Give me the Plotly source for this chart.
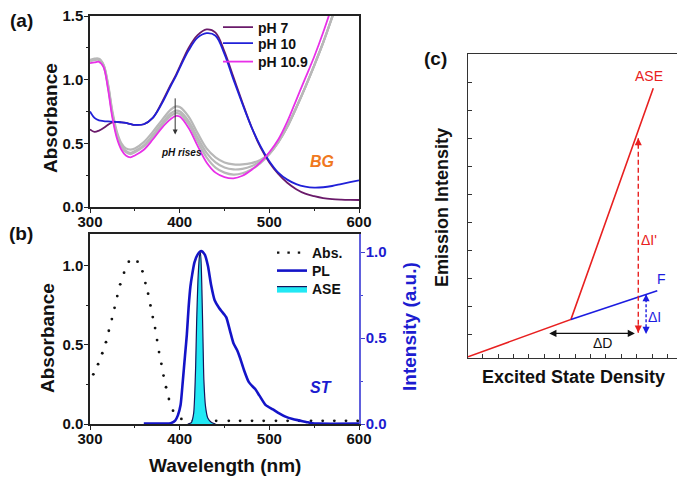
import plotly.graph_objects as go

FONT = "Liberation Sans, Arial, sans-serif"

# ---------------- Panel (a) data ----------------
wl_a = [300, 305, 310, 315, 320, 325, 330, 335, 340, 345, 350, 360, 370, 380, 390, 396, 400,
        410, 420, 430, 440, 450, 460, 470, 480, 490, 500, 510, 520, 530, 540, 550, 560, 570,
        580, 590, 600]
ph7 = [0.61, 0.59, 0.60, 0.62, 0.645, 0.665, 0.668, 0.665, 0.66, 0.652, 0.645, 0.65, 0.70, 0.82,
       0.96, 1.04, 1.10, 1.25, 1.35, 1.395, 1.37, 1.22, 1.02, 0.82, 0.63, 0.47, 0.35, 0.26, 0.19,
       0.14, 0.105, 0.085, 0.07, 0.062, 0.058, 0.056, 0.055]
ph10 = [0.75, 0.70, 0.68, 0.675, 0.672, 0.67, 0.668, 0.665, 0.66, 0.652, 0.645, 0.65, 0.70, 0.81,
        0.95, 1.03, 1.09, 1.23, 1.33, 1.365, 1.345, 1.20, 1.00, 0.81, 0.63, 0.48, 0.36, 0.27,
        0.215, 0.18, 0.16, 0.152, 0.155, 0.165, 0.18, 0.195, 0.21]
ph109 = [1.13, 1.135, 1.14, 1.10, 0.93, 0.70, 0.54, 0.45, 0.405, 0.39, 0.405, 0.45, 0.53, 0.62,
         0.69, 0.715, 0.71, 0.62, 0.48, 0.35, 0.27, 0.235, 0.225, 0.245, 0.29, 0.35, 0.43, 0.53,
         0.67, 0.84, 1.01, 1.18, 1.37, 1.58, 1.80, 2.05, 2.30]
gray1 = [1.155, 1.165, 1.165, 1.12, 0.97, 0.75, 0.59, 0.50, 0.46, 0.45, 0.46, 0.51, 0.59, 0.68,
         0.765, 0.79, 0.785, 0.71, 0.58, 0.46, 0.39, 0.35, 0.335, 0.335, 0.345, 0.37, 0.42, 0.51,
         0.63, 0.78, 0.94, 1.11, 1.29, 1.49, 1.70, 1.95, 2.20]
gray2 = [1.15, 1.16, 1.16, 1.115, 0.96, 0.735, 0.575, 0.485, 0.44, 0.425, 0.44, 0.485, 0.565,
         0.655, 0.735, 0.757, 0.752, 0.675, 0.545, 0.425, 0.35, 0.31, 0.295, 0.30, 0.32, 0.36,
         0.42, 0.51, 0.63, 0.78, 0.94, 1.11, 1.29, 1.49, 1.70, 1.95, 2.20]
gray3 = [1.145, 1.155, 1.155, 1.11, 0.95, 0.725, 0.565, 0.475, 0.43, 0.415, 0.43, 0.475, 0.55,
         0.64, 0.715, 0.737, 0.732, 0.65, 0.515, 0.39, 0.31, 0.27, 0.255, 0.265, 0.295, 0.345,
         0.415, 0.51, 0.63, 0.78, 0.94, 1.11, 1.29, 1.49, 1.70, 1.95, 2.20]

# ---------------- Panel (b) data ----------------
abs_wl = [303.7, 309, 313.7, 317.8, 321, 324.4, 327.4, 330.4, 333.7, 338, 343.3, 353, 358.5,
          361.8, 364.8, 367.4, 370, 372.6, 374.8, 377, 379.6, 382, 384.8, 388, 392.6, 401.9,
          414.8, 427.8, 440.7, 454.8, 467.4, 480.7, 493.7, 507.4, 520.4, 533.3, 546.5, 559.5,
          572.5, 585.5, 598.5]
abs_val = [0.314, 0.378, 0.447, 0.517, 0.589, 0.663, 0.734, 0.808, 0.882, 0.956, 1.025, 1.025,
           0.964, 0.89, 0.823, 0.749, 0.675, 0.606, 0.53, 0.454, 0.38, 0.306, 0.232, 0.158,
           0.084, 0.032, 0.02, 0.02, 0.02, 0.02, 0.02, 0.02, 0.02, 0.02, 0.02, 0.02, 0.02, 0.02,
           0.02, 0.02, 0.02]

pl_wl = [360, 390, 395, 398, 401, 403.5, 406, 408, 410, 412, 414, 416.5, 420, 424, 428, 431.5,
         435, 439, 444, 450, 452, 456, 460, 464, 467, 472, 477, 481, 484, 489, 496, 504, 511,
         518, 526, 533, 541, 548, 555, 600]
pl_val = [0.003, 0.005, 0.02, 0.05, 0.11, 0.25, 0.40, 0.52, 0.68, 0.80, 0.87, 0.94, 0.985, 1.006,
          0.985, 0.92, 0.81, 0.72, 0.675, 0.635, 0.62, 0.545, 0.47, 0.43, 0.39, 0.31, 0.245,
          0.22, 0.205, 0.165, 0.11, 0.085, 0.062, 0.043, 0.029, 0.021, 0.012, 0.004, 0.002, 0.002]

ase_wl = [409, 413, 415.6, 416.7, 417.8, 418.9, 420.4, 422.2, 423.3, 424.8, 426, 427, 428.9,
          431.5, 435.2, 440]
ase_val = [0.0, 0.008, 0.062, 0.16, 0.33, 0.585, 0.837, 0.98, 0.996, 0.78, 0.49, 0.256, 0.10,
           0.033, 0.01, 0.0]

# ---------------- Panel (c) schematic data ----------------
c_ase_x = [0, 48.8, 87.8]
c_ase_y = [0.4, 12.7, 88.7]
c_f_x = [48.8, 89.7]
c_f_y = [12.7, 22.1]
dI2_x, dI2_y = [80.7, 80.7], [8.3, 72.3]     # ΔI'
dI_x, dI_y = [84.4, 84.4], [21.0, 7.9]       # ΔI
dD_x, dD_y = [37.8, 79.1], [8.1, 8.1]        # ΔD

# page body has an 8px margin: the figure sits at (8, 8) inside the 685x478 window
OFF = 8
W, H = 685 - OFF, 478 - OFF
def px(xp):
    return (xp - OFF) / W
def py(yp):
    return 1 - (yp - OFF) / H

fig = go.Figure()

# ---- (a) ----
for g in (gray1, gray2, gray3):
    fig.add_trace(go.Scatter(x=wl_a, y=g, mode="lines", line=dict(color="#b8b8b8", width=2.2, shape="spline"),
                             showlegend=False, hoverinfo="skip", xaxis="x", yaxis="y"))
fig.add_trace(go.Scatter(x=wl_a, y=ph7, mode="lines", name="pH 7", legend="legend",
                         line=dict(color="#6a1a6a", width=1.8, shape="spline"), xaxis="x", yaxis="y"))
fig.add_trace(go.Scatter(x=wl_a, y=ph10, mode="lines", name="pH 10", legend="legend3",
                         line=dict(color="#2020d8", width=1.8, shape="spline"), xaxis="x", yaxis="y"))
fig.add_trace(go.Scatter(x=wl_a, y=ph109, mode="lines", name="pH 10.9", legend="legend4",
                         line=dict(color="#e830e8", width=1.8, shape="spline"), xaxis="x", yaxis="y"))

# ---- (b) ----
fig.add_trace(go.Scatter(x=abs_wl, y=abs_val, mode="markers", showlegend=False,
                         marker=dict(color="#111", size=2.8, symbol="circle"), xaxis="x2", yaxis="y2"))
fig.add_trace(go.Scatter(x=[None], y=[None], mode="lines", name="Abs.", legend="legend2",
                         line=dict(color="#111", width=2.4, dash="2.4px,8px"), xaxis="x2", yaxis="y2"))
fig.add_trace(go.Scatter(x=pl_wl, y=pl_val, mode="lines", name="PL", legend="legend5",
                         line=dict(color="#1414c8", width=2.6, shape="spline", smoothing=0.6),
                         xaxis="x2", yaxis="y3"))
fig.add_trace(go.Scatter(x=ase_wl, y=ase_val, mode="lines", name="ASE", legend="legend6",
                         fill="tozeroy", fillcolor="#22e8f4",
                         line=dict(color="#14145a", width=1.2, shape="spline", smoothing=0.6),
                         xaxis="x2", yaxis="y3"))

# ---- (c) ----
fig.add_trace(go.Scatter(x=c_ase_x, y=c_ase_y, mode="lines", showlegend=False,
                         line=dict(color="#e82020", width=1.6), xaxis="x3", yaxis="y4"))
fig.add_trace(go.Scatter(x=c_f_x, y=c_f_y, mode="lines", showlegend=False,
                         line=dict(color="#1c1ce0", width=1.6), xaxis="x3", yaxis="y4"))
fig.add_trace(go.Scatter(x=dI2_x, y=dI2_y, mode="lines", showlegend=False,
                         line=dict(color="#e82020", width=1.4, dash="5px,3px"), xaxis="x3", yaxis="y4"))
fig.add_trace(go.Scatter(x=dI_x, y=dI_y, mode="lines", showlegend=False,
                         line=dict(color="#1c1ce0", width=1.4, dash="3px,2px"), xaxis="x3", yaxis="y4"))

ann = []
def head(x, y, tx, ty, color, xr="x3", yr="y4"):
    ann.append(dict(x=x, y=y, ax=tx, ay=ty, xref=xr, yref=yr, axref=xr, ayref=yr, text="",
                    showarrow=True, arrowhead=2, arrowsize=1.1, arrowwidth=1.3, arrowcolor=color))

head(dI2_x[1], dI2_y[1], dI2_x[1], dI2_y[1] - 3, "#e82020")
head(dI2_x[0], dI2_y[0], dI2_x[0], dI2_y[0] + 3, "#e82020")
head(dI_x[0], dI_y[0], dI_x[0], dI_y[0] - 2.5, "#1c1ce0")
head(dI_x[1], dI_y[1], dI_x[1], dI_y[1] + 2.5, "#1c1ce0")
ann.append(dict(x=dD_x[1], y=dD_y[1], ax=dD_x[0], ay=dD_y[0], xref="x3", yref="y4", axref="x3", ayref="y4",
                text="", showarrow=True, arrowhead=2, arrowside="end+start", arrowsize=1.1,
                arrowwidth=1.3, arrowcolor="#111"))
# pH rises arrow in (a)
ann.append(dict(x=395, y=0.57, ax=395, ay=0.865, xref="x", yref="y", axref="x", ayref="y", text="",
                showarrow=True, arrowhead=2, arrowsize=1, arrowwidth=1, arrowcolor="#333"))

def txt(x, y, s, size, color="#111", xref="x3", yref="y4", bold=False, italic=False, angle=0):
    ann.append(dict(x=x, y=y, xref=xref, yref=yref, text=s, showarrow=False, xanchor="center",
                    yanchor="middle", textangle=angle,
                    font=dict(family=FONT, size=size, color=color, weight="bold" if bold else "normal",
                              style="italic" if italic else "normal")))

txt(85.8, 92.8, "ASE", 14, "#e82020")
txt(91.8, 26.0, "F", 14, "#1c1ce0")
txt(86.0, 38.8, "ΔI'", 14, "#e82020")
txt(88.3, 13.6, "ΔI", 14, "#1c1ce0")
txt(63.8, 4.8, "ΔD", 14, "#111")
txt(402, 0.43, "pH rises", 10, "#111", xref="x", yref="y", bold=True, italic=True)
txt(559, 0.36, "BG", 16, "#f07820", xref="x", yref="y", bold=True, italic=True)
txt(558, 0.23, "ST", 16, "#1c1cd0", xref="x2", yref="y2", bold=True, italic=True)
txt(px(21), py(20), "(a)", 19, xref="paper", yref="paper", bold=True)
txt(px(21), py(233), "(b)", 19, xref="paper", yref="paper", bold=True)
txt(px(435), py(58), "(c)", 19, xref="paper", yref="paper", bold=True)
# axis titles
txt(px(50), py(118), "Absorbance", 19, xref="paper", yref="paper", bold=True, angle=-90)
txt(px(47), py(338), "Absorbance", 19, xref="paper", yref="paper", bold=True, angle=-90)
txt(px(409), py(327), "Intensity (a.u.)", 19, "#1c1cd0", xref="paper", yref="paper", bold=True, angle=-90)
txt(px(225), py(465), "Wavelength (nm)", 19, xref="paper", yref="paper", bold=True)
txt(px(442), py(208), "Emission Intensity", 18, xref="paper", yref="paper", bold=True, angle=-90)
txt(px(573), py(377), "Excited State Density", 18, xref="paper", yref="paper", bold=True)

tickfont = dict(family=FONT, size=15, color="#111", weight="bold")
axcommon = dict(showgrid=False, zeroline=False, showline=True, linecolor="#222", linewidth=1.5,
                mirror=True, ticks="outside", ticklen=4, tickwidth=1.3, tickcolor="#222",
                tickfont=tickfont, automargin=False, ticklabeloverflow="allow")
xminor = dict(dtick=50, ticklen=2.5, ticks="outside", tickcolor="#222")

def leg(xl, yc):
    return dict(x=px(xl), y=py(yc), xanchor="left", yanchor="middle", bgcolor="rgba(0,0,0,0)",
                font=dict(family=FONT, size=14, color="#111", weight="bold"), itemwidth=30)

fig.update_layout(
    width=W, height=H, margin=dict(l=0, r=0, t=0, b=0, autoexpand=False),
    paper_bgcolor="white", plot_bgcolor="white",
    font=dict(family=FONT),
    xaxis=dict(domain=[px(90), px(359)], range=[300, 600], anchor="y", dtick=100,
               ticklabelstandoff=-4, minor=xminor, **axcommon),
    yaxis=dict(domain=[py(207), py(16)], range=[0, 1.5], anchor="x", dtick=0.5, tickformat=".1f",
               ticklabelstandoff=-2,
               minor=dict(dtick=0.25, ticklen=2.5, ticks="outside", tickcolor="#222"), **axcommon),
    xaxis2=dict(domain=[px(90), px(359)], range=[300, 600], anchor="y2", dtick=100,
                ticklabelstandoff=-4, minor=xminor, **axcommon),
    yaxis2=dict(domain=[py(424), py(234)], range=[0, 1.2], anchor="x2", dtick=0.5, tickformat=".1f",
                ticklabelstandoff=-2,
                minor=dict(dtick=0.25, ticklen=2.5, ticks="outside", tickcolor="#222"), **axcommon),
    yaxis3=dict(domain=[py(424), py(234)], range=[0, 1.105], anchor="x2", overlaying="y2", side="right",
                dtick=0.5, tickformat=".1f", showgrid=False, zeroline=False, showline=True,
                linecolor="#6060dd", linewidth=1.5, ticks="outside", ticklen=4, tickwidth=1.3,
                tickcolor="#4040d0", automargin=False, ticklabelstandoff=-2, ticklabeloverflow="allow",
                minor=dict(dtick=0.25, ticklen=2.5, ticks="outside", tickcolor="#4040d0"),
                tickfont=dict(family=FONT, size=15, color="#1c1cd0", weight="bold")),
    xaxis3=dict(domain=[px(468), px(679)], range=[0, 100], anchor="y4", showgrid=False, zeroline=False,
                showline=True, linecolor="#333", linewidth=1.2, mirror=True, ticks="inside",
                ticklen=4, tickcolor="#333", tick0=6.97, dtick=7.3, showticklabels=False,
                automargin=False),
    yaxis4=dict(domain=[py(358), py(54)], range=[0, 100], anchor="x3", showgrid=False, zeroline=False,
                showline=True, linecolor="#333", linewidth=1.2, mirror=True, ticks="inside",
                ticklen=4, tickcolor="#333", tick0=7.8, dtick=9.21, showticklabels=False,
                automargin=False),
    legend=leg(218, 27.5),
    legend3=leg(218, 43.5),
    legend4=leg(218, 62),
    legend2=leg(272, 253),
    legend5=leg(272, 271),
    legend6=leg(272, 289),
    annotations=ann,
)

fig.write_html("out.html")
